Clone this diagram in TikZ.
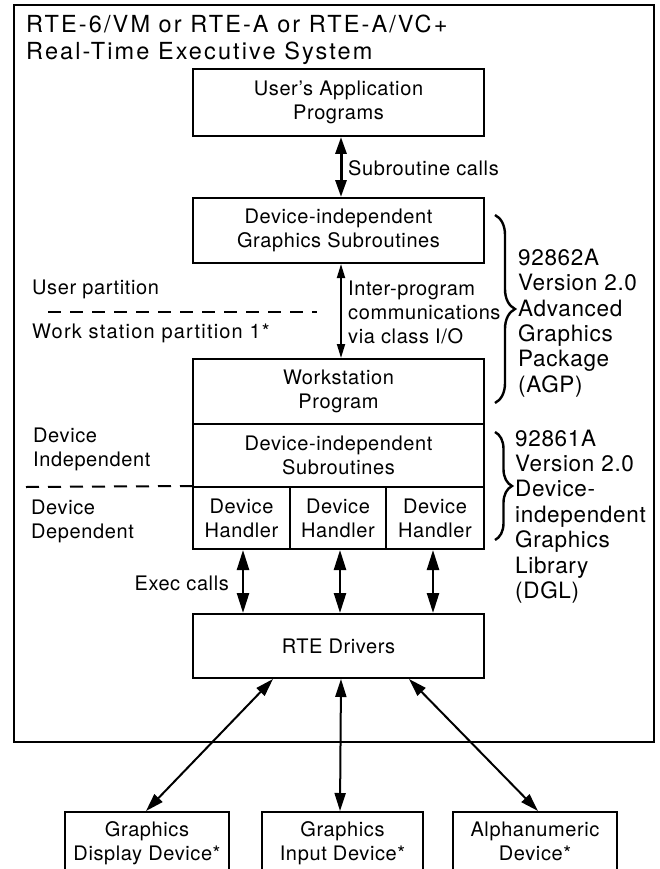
\documentclass[tikz,border=0pt]{standalone}
\usepackage{fontspec}
\setmainfont{TeX Gyre Heros}[LetterSpace=3]
\newfontfamily\titlefam{TeX Gyre Heros}[LetterSpace=9]
\newfontfamily\widefam{TeX Gyre Heros}[LetterSpace=6]
\usetikzlibrary{arrows.meta,decorations.pathreplacing}
\begin{document}
\begin{tikzpicture}[x=1pt,y=-1pt,
  every node/.style={inner sep=0pt, font=\fontsize{20}{24}\selectfont},
  box/.style={draw, line width=2pt, align=center, minimum width=291pt},
  dev/.style={draw, line width=2pt, align=center, anchor=north, inner xsep=0pt, inner ysep=10pt},
  lbl/.style={anchor=west, align=left},
  biglbl/.style={anchor=west, align=left, font=\fontsize{22.5}{25.4}\selectfont},
  dsh/.style={line width=2pt, dash pattern=on 13pt off 9pt},
  arrA/.style={line width=3pt, {Triangle[length=17pt,width=11pt]}-{Triangle[length=17pt,width=11pt]}},
  arrB/.style={line width=1.8pt, {Triangle[length=14pt,width=8pt]}-{Triangle[length=14pt,width=8pt]}},
  arrC/.style={line width=2.4pt, {Triangle[length=20pt,width=12pt]}-{Triangle[length=20pt,width=12pt]}},
  arrD/.style={line width=2pt, {Triangle[length=18pt,width=11pt]}-{Triangle[length=18pt,width=11pt]}},
  brc/.style={line width=2.4pt, decorate, decoration={brace, amplitude=#1}}
]
\useasboundingbox (0,0) rectangle (660,869);
\clip (0,0) rectangle (660,869);

% outer frame
\draw[line width=2.5pt] (14,5) rectangle (654,742);
\node[anchor=west, align=left, font=\titlefam\fontsize{23.5}{27}\selectfont] (title) at (26,40)
  {RTE-6/VM or RTE-A or RTE-A/VC+\\Real-Time Executive System};

% main boxes
\node[box, minimum height=67pt] (app)  at (338.5,102.5) {User's Application\\Programs};
\node[box, minimum height=65pt] (digs) at (338.5,230.5) {Device-independent\\Graphics Subroutines};
\node[box, minimum height=65pt] (ws)   at (338.5,391.5) {Workstation\\Program};
\node[box, minimum height=63pt] (dis)  at (338.5,455.5) {Device-independent\\Subroutines};
\node[box, minimum width=97pt, minimum height=62pt] (h1) at (241.5,518) {Device\\Handler};
\node[box, minimum width=96pt, minimum height=62pt] (h2) at (338,518) {Device\\Handler};
\node[box, minimum width=98pt, minimum height=62pt] (h3) at (435,518) {Device\\Handler};
\node[box, minimum height=64pt] (rte)  at (338.5,646) {RTE Drivers};

% device boxes (open at the bottom edge of the picture)
\node[dev, minimum width=164pt] (gd) at (147,811) {Graphics\\Display Device*};
\node[dev, minimum width=161pt] (gi) at (342.5,811) {Graphics\\Input Device*};
\node[dev, minimum width=164pt] (an) at (535,811) {Alphanumeric\\Device*};

% connectors
\draw[arrA] ([xshift=2.5pt]app.south) -- ([xshift=2.5pt]digs.north);
\draw[arrB] ([xshift=2.5pt]digs.south) -- ([xshift=2.5pt]ws.north);
\draw[arrC] ([xshift=1.5pt]h1.south) -- ([xshift=1.5pt]h1.south |- rte.north);
\draw[arrC] ([xshift=2pt]h2.south) -- ([xshift=2pt]h2.south |- rte.north);
\draw[arrC] ([xshift=-2pt]h3.south) -- ([xshift=-2pt]h3.south |- rte.north);
\draw[arrD] ([xshift=-65.5pt]rte.south) -- ([xshift=-1pt]gd.north);
\draw[arrD] ([xshift=2.5pt]rte.south) -- ([xshift=-2.5pt]gi.north);
\draw[arrD] ([xshift=70.5pt]rte.south) -- ([xshift=3pt]an.north);

% connector labels
\node[lbl] (sc) at (348,168.5) {Subroutine calls};
\node[lbl] (ipc) at (348,312.5) {Inter-program\\communications\\via class I/O};
\node[anchor=east] (ex) at (229,583.5) {Exec calls};

% partition labels and dashed lines
\node[lbl] (up) at (32,289.5) {User partition};
\draw[dsh] (48,312) coordinate (d1a) -- (317,312) coordinate (d1b);
\node[lbl, font=\widefam\fontsize{20}{24}\selectfont] (wsp) at (32,333.5) {Work station partition 1*};
\node[lbl] (di) at (33,449.5) {Device\\Independent};
\draw[dsh] (26,487) coordinate (d2a) -- (h1.north west);
\node[lbl] (dd) at (31,521.5) {Device\\Dependent};

% braces and product labels
\draw[brc=20pt] (495,215) coordinate (b1a) -- (495,403) coordinate (b1b);
\node[biglbl] (agp) at (518,323) {92862A\\Version 2.0\\Advanced\\Graphics\\Package\\(AGP)};
\draw[brc=17pt] (495,432) coordinate (b2a) -- (495,540) coordinate (b2b);
\node[biglbl] (dgl) at (515,516.5) {92861A\\Version 2.0\\Device-\\independent\\Graphics\\Library\\(DGL)};
\end{tikzpicture}
\end{document}
